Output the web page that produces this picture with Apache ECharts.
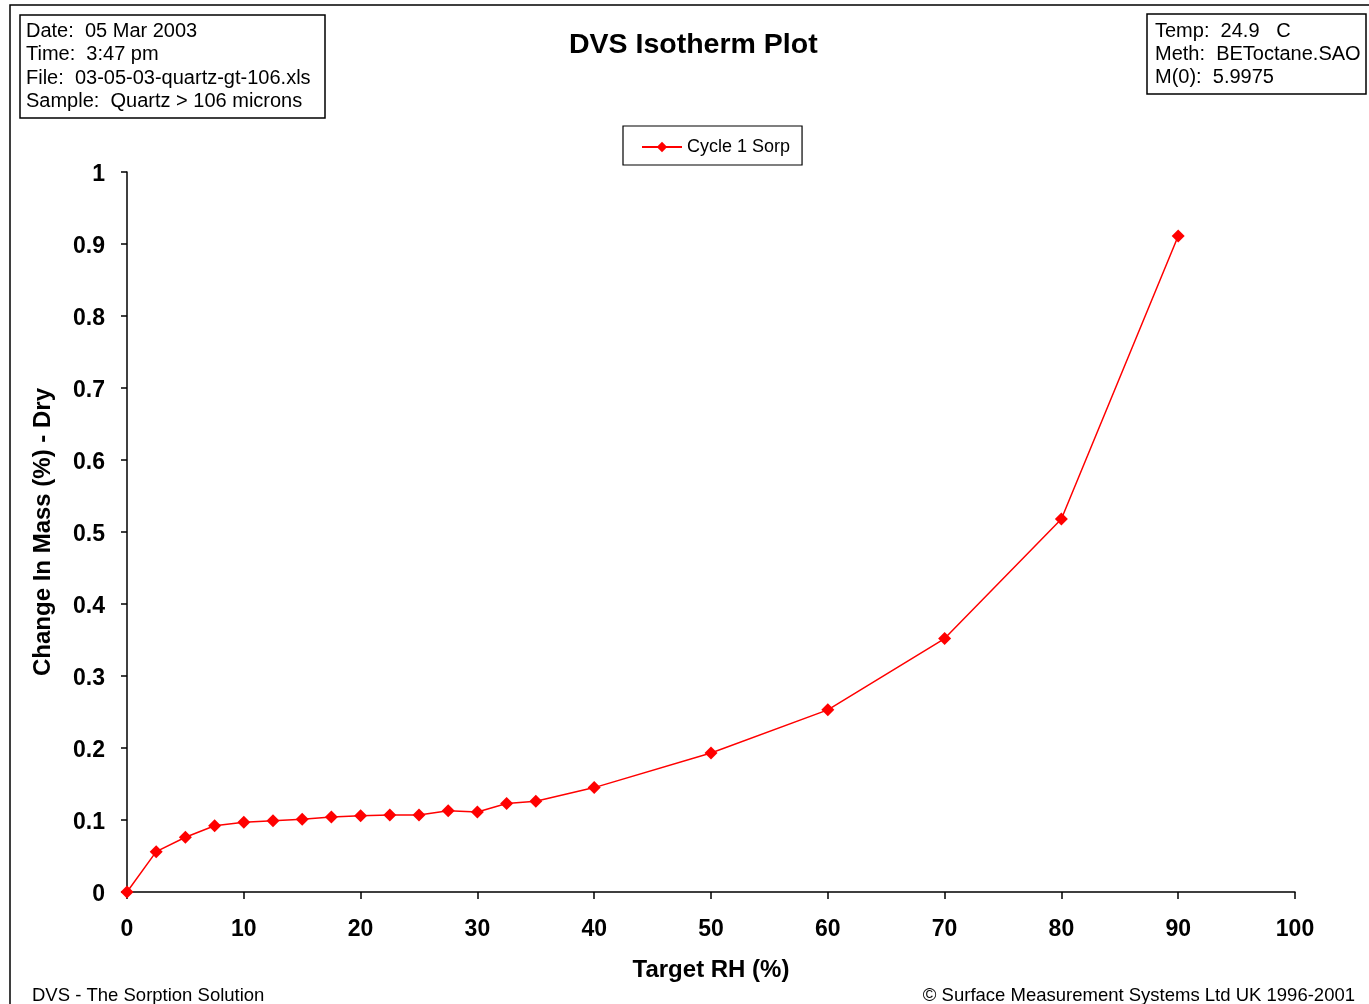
<!DOCTYPE html>
<html>
<head>
<meta charset="utf-8">
<script src="https://cdn.jsdelivr.net/npm/echarts@6/dist/echarts.min.js"></script>
<style>
  html, body { margin: 0; padding: 0; background: #fff; }
  #chart { width: 1369px; height: 1004px; }
</style>
</head>
<body>
<div id="chart"></div>
<script>
// Target relative humidity steps (%)
const targetRH = [0, 2.5, 5, 7.5, 10, 12.5, 15, 17.5, 20, 22.5, 25, 27.5, 30, 32.5, 35, 40, 50, 60, 70, 80, 90];
// Change in mass (%) relative to dry mass, first sorption cycle
const cycle1Sorp = [0, 0.056, 0.076, 0.092, 0.097, 0.099, 0.101, 0.104, 0.106, 0.107, 0.107, 0.113, 0.111, 0.123, 0.126, 0.145, 0.193, 0.253, 0.352, 0.518, 0.911];

const xTicks = { min: 0, max: 100, interval: 10 };
const yTicks = { min: 0, max: 1, interval: 0.1 };

const infoLeft = ['Date:  05 Mar 2003', 'Time:  3:47 pm', 'File:  03-05-03-quartz-gt-106.xls', 'Sample:  Quartz > 106 microns'];
const infoRight = ['Temp:  24.9   C', 'Meth:  BEToctane.SAO', 'M(0):  5.9975'];

const FONT = '"Liberation Sans", Arial, sans-serif';

const chart = echarts.init(document.getElementById('chart'), null, { renderer: 'canvas' });

function textLines(lines, x, y0, step) {
  return lines.map((t, i) => ({
    type: 'text',
    left: x,
    top: y0 + i * step,
    style: { text: t, font: '20px ' + FONT, fill: '#000' }
  }));
}

const graphics = [
  // outer frame
  { type: 'rect', shape: { x: 10, y: 5, width: 1400, height: 1100 }, style: { fill: 'none', stroke: '#000', lineWidth: 1.5 }, z: 0 },
  // run information box
  { type: 'rect', shape: { x: 20, y: 15, width: 305, height: 103 }, style: { fill: '#fff', stroke: '#000', lineWidth: 1.5 } },
  // method information box
  { type: 'rect', shape: { x: 1147, y: 14, width: 219, height: 80 }, style: { fill: '#fff', stroke: '#000', lineWidth: 1.5 } },
  ...textLines(infoLeft, 26, 21, 23.5),
  ...textLines(infoRight, 1155, 21, 23),
  { type: 'text', left: 32, top: 986, style: { text: 'DVS - The Sorption Solution', font: '18.5px ' + FONT, fill: '#000' } },
  { type: 'text', right: 14, top: 986, style: { text: '\u00A9 Surface Measurement Systems Ltd UK 1996-2001', font: '18.5px ' + FONT, fill: '#000' } }
];

chart.setOption({
  backgroundColor: '#fff',
  animation: false,
  title: {
    text: 'DVS Isotherm Plot',
    left: 564,
    top: 26,
    textStyle: { fontFamily: FONT, fontWeight: 'bold', fontSize: 28.5, color: '#000' }
  },
  legend: {
    left: 623,
    top: 126,
    width: 179,
    borderColor: '#000',
    borderWidth: 1.2,
    borderRadius: 0,
    padding: [12, 12, 9, 18],
    itemWidth: 40,
    itemHeight: 13,
    itemGap: 6,
    textStyle: { fontFamily: FONT, fontSize: 18, color: '#000' },
    data: ['Cycle 1 Sorp']
  },
  grid: { left: 127, top: 172, width: 1168, height: 720, containLabel: false },
  xAxis: {
    type: 'value',
    min: xTicks.min,
    max: xTicks.max,
    interval: xTicks.interval,
    name: 'Target RH (%)',
    nameLocation: 'middle',
    nameGap: 66,
    nameTextStyle: { fontFamily: FONT, fontWeight: 'bold', fontSize: 24, color: '#000' },
    axisLine: { lineStyle: { color: '#000', width: 1.5 } },
    axisTick: { inside: false, length: 7, lineStyle: { color: '#000', width: 1.5 } },
    axisLabel: { margin: 26, fontFamily: FONT, fontWeight: 'bold', fontSize: 23, color: '#000' },
    splitLine: { show: false }
  },
  yAxis: {
    type: 'value',
    min: yTicks.min,
    max: yTicks.max,
    interval: yTicks.interval,
    name: 'Change In Mass (%) - Dry',
    nameLocation: 'middle',
    nameGap: 72,
    nameTextStyle: { fontFamily: FONT, fontWeight: 'bold', fontSize: 24, color: '#000' },
    axisLine: { show: true, lineStyle: { color: '#000', width: 1.5 } },
    axisTick: { show: true, inside: false, length: 6, lineStyle: { color: '#000', width: 1.5 } },
    axisLabel: {
      margin: 22,
      fontFamily: FONT, fontWeight: 'bold', fontSize: 23, color: '#000',
      formatter: v => '{v|' + (Math.round(v * 10) / 10) + '}',
      rich: {
        v: { fontFamily: FONT, fontWeight: 'bold', fontSize: 23, color: '#000', padding: [6, 0, 0, 0] }
      }
    },
    splitLine: { show: false }
  },
  series: [{
    name: 'Cycle 1 Sorp',
    type: 'line',
    data: targetRH.map((x, i) => [x, cycle1Sorp[i]]),
    symbol: 'diamond',
    symbolSize: 13,
    showAllSymbol: true,
    color: '#ff0000',
    lineStyle: { color: '#ff0000', width: 1.5 },
    itemStyle: { color: '#ff0000' }
  }],
  graphic: graphics
});
</script>
</body>
</html>
